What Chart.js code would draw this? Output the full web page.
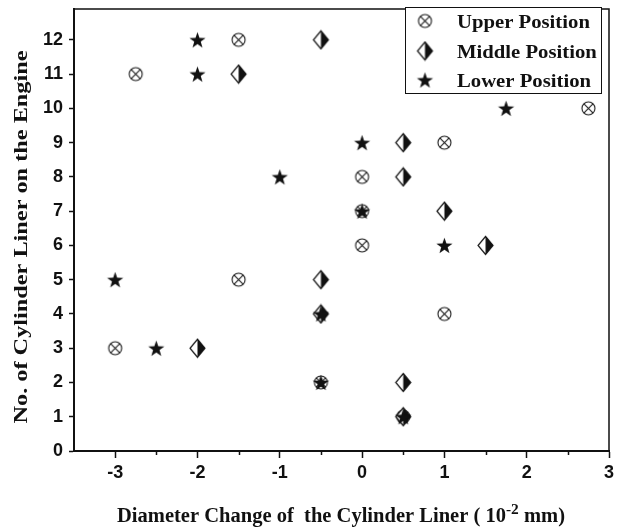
<!DOCTYPE html>
<html>
<head>
<meta charset="utf-8">
<title>Cylinder liner diameter change</title>
<script src="https://cdn.jsdelivr.net/npm/chart.js@4.4.1/dist/chart.umd.min.js"></script>
<style>
  html, body { margin: 0; padding: 0; background: #fff; }
  #wrap { width: 618px; height: 531px; }
</style>
</head>
<body>
<div id="wrap"><canvas id="liner" width="618" height="531"></canvas></div>
<script>
// cylinder number on the engine (y) and measured diameter change in 1e-2 mm (x)
const cylinders = [1, 2, 3, 4, 5, 6, 7, 8, 9, 10, 11, 12];
const upperChange  = [0.5, -0.5, -3, 1, -1.5, 0, 0, 0, 1, 2.75, -2.75, -1.5];
const middleChange = [0.5, 0.5, -2, -0.5, -0.5, 1.5, 1, 0.5, 0.5, null, -1.5, -0.5];
const lowerChange  = [0.5, -0.5, -2.5, -0.5, -3, 1, 0, -1, 0, 1.75, -2, -2];

const xTicks = [-3, -2, -1, 0, 1, 2, 3];
const xMinorTicks = [-2.5, -1.5, -0.5, 0.5, 1.5, 2.5];
const yTicks = [0, 1, 2, 3, 4, 5, 6, 7, 8, 9, 10, 11, 12];

const INK = '#111';

function toPoints(values) {
  const pts = [];
  values.forEach((v, i) => {
    if (v !== null) pts.push({ x: v, y: cylinders[i] });
  });
  return pts;
}

function makeMarker(draw) {
  const c = document.createElement('canvas');
  c.width = 21;
  c.height = 21;
  const g = c.getContext('2d');
  g.translate(10.5, 10.5);
  draw(g);
  return c;
}

// circle with a cross inside
const upperMarker = makeMarker(g => {
  g.strokeStyle = '#1a1a1a';
  g.lineWidth = 1.1;
  g.beginPath();
  g.arc(0, 0, 6.5, 0, Math.PI * 2);
  g.stroke();
  const d = 6.5 * Math.SQRT1_2;
  g.beginPath();
  g.moveTo(-d, -d); g.lineTo(d, d);
  g.moveTo(-d, d); g.lineTo(d, -d);
  g.stroke();
});

// diamond, right half filled
const middleMarker = makeMarker(g => {
  const w = 7.5, h = 9;
  g.fillStyle = '#fff';
  g.beginPath();
  g.moveTo(0, -h); g.lineTo(-w, 0); g.lineTo(0, h); g.closePath();
  g.fill();
  g.fillStyle = INK;
  g.beginPath();
  g.moveTo(0, -h); g.lineTo(w, 0); g.lineTo(0, h); g.closePath();
  g.fill();
  g.strokeStyle = INK;
  g.lineWidth = 1.2;
  g.beginPath();
  g.moveTo(0, -h); g.lineTo(w, 0); g.lineTo(0, h); g.lineTo(-w, 0); g.closePath();
  g.stroke();
});

// filled five point star
const lowerMarker = makeMarker(g => {
  const R = 8.5, r = 3.4;
  g.fillStyle = INK;
  g.beginPath();
  for (let i = 0; i < 10; i++) {
    const rad = i % 2 === 0 ? R : r;
    const a = -Math.PI / 2 + i * Math.PI / 5;
    const px = rad * Math.cos(a), py = rad * Math.sin(a) + 0.8;
    if (i === 0) g.moveTo(px, py); else g.lineTo(px, py);
  }
  g.closePath();
  g.fill();
});

// draw a run of text pieces stretched to a fixed width
function fitText(ctx, parts, cx, baseline, width) {
  let natural = 0;
  parts.forEach(p => {
    ctx.font = 'bold ' + p.size + 'px "Liberation Serif", "Times New Roman", serif';
    natural += ctx.measureText(p.text).width;
  });
  const k = width / natural;
  ctx.save();
  ctx.translate(cx - width / 2, baseline);
  ctx.scale(k, 1);
  let x = 0;
  parts.forEach(p => {
    ctx.font = 'bold ' + p.size + 'px "Liberation Serif", "Times New Roman", serif';
    ctx.fillText(p.text, x, -(p.rise || 0));
    x += ctx.measureText(p.text).width;
  });
  ctx.restore();
}

const decorations = {
  id: 'decorations',
  afterDraw(chart) {
    const ctx = chart.ctx;
    const area = chart.chartArea;
    const xs = chart.scales.x;
    ctx.save();
    ctx.strokeStyle = INK;
    ctx.fillStyle = INK;
    ctx.textBaseline = 'alphabetic';
    ctx.textAlign = 'left';

    // top and right frame
    ctx.lineWidth = 1.5;
    ctx.beginPath();
    ctx.moveTo(area.left, area.top);
    ctx.lineTo(area.right, area.top);
    ctx.lineTo(area.right, area.bottom);
    ctx.stroke();

    // minor ticks on the x axis
    ctx.lineWidth = 1.5;
    xMinorTicks.forEach(v => {
      const px = Math.round(xs.getPixelForValue(v)) + 0.5;
      ctx.beginPath();
      ctx.moveTo(px, area.bottom);
      ctx.lineTo(px, area.bottom + 4);
      ctx.stroke();
    });

    // axis titles
    fitText(ctx, [
      { text: 'Diameter Change of  the Cylinder Liner ( 10', size: 20 },
      { text: '-2', size: 15, rise: 8 },
      { text: ' mm)', size: 20 }
    ], 341, 522, 448);

    ctx.save();
    ctx.translate(27, 237);
    ctx.rotate(-Math.PI / 2);
    fitText(ctx, [{ text: 'No. of Cylinder Liner on the Engine', size: 19 }], 0, 0, 373);
    ctx.restore();

    // legend box
    const box = { left: 405, top: 7, right: 601, bottom: 93 };
    ctx.lineWidth = 1;
    ctx.fillStyle = '#fff';
    ctx.fillRect(box.left, box.top, box.right - box.left, box.bottom - box.top);
    ctx.strokeRect(box.left + 0.5, box.top + 0.5, box.right - box.left, box.bottom - box.top);
    ctx.fillStyle = INK;
    const rows = [21, 51, 80];
    chart.data.datasets.forEach((ds, i) => {
      const img = ds.pointStyle;
      ctx.drawImage(img, 425 - img.width / 2, rows[i] - img.height / 2);
      ctx.save();
      ctx.font = 'bold 19px "Liberation Serif", "Times New Roman", serif';
      ctx.translate(457, rows[i] + 7);
      ctx.scale(1.09, 1);
      ctx.fillText(ds.label, 0, 0);
      ctx.restore();
    });
    ctx.restore();
  }
};

const tickFont = { family: '"Liberation Sans", Arial, sans-serif', weight: 'bold', size: 18 };

new Chart(document.getElementById('liner'), {
  type: 'scatter',
  data: {
    datasets: [
      { label: 'Upper Position', data: toPoints(upperChange), pointStyle: upperMarker, pointRadius: 8, order: 3 },
      { label: 'Middle Position', data: toPoints(middleChange), pointStyle: middleMarker, pointRadius: 8, order: 2 },
      { label: 'Lower Position', data: toPoints(lowerChange), pointStyle: lowerMarker, pointRadius: 8, order: 1 }
    ]
  },
  options: {
    responsive: false,
    animation: false,
    layout: { padding: { top: 5, right: 8, left: 0, bottom: 0 } },
    scales: {
      x: {
        type: 'linear',
        min: -3.5,
        max: 3,
        afterBuildTicks: s => { s.ticks = xTicks.map(v => ({ value: v })); },
        afterFit: s => { s.height = 80; s.paddingLeft = 0; s.paddingRight = 0; },
        grid: { drawOnChartArea: false, drawTicks: true, tickLength: 7, tickColor: INK, tickWidth: 1.5 },
        border: { color: INK, width: 2 },
        ticks: { color: INK, font: tickFont, padding: 4, maxRotation: 0 }
      },
      y: {
        type: 'linear',
        min: 0,
        max: 12.9,
        afterBuildTicks: s => { s.ticks = yTicks.map(v => ({ value: v })); },
        afterFit: s => { s.width = 74; s.paddingTop = 0; s.paddingBottom = 0; },
        grid: { drawOnChartArea: false, drawTicks: true, tickLength: 5, tickColor: INK, tickWidth: 1.5 },
        border: { color: INK, width: 2 },
        ticks: { color: INK, font: tickFont, padding: 6 }
      }
    },
    plugins: {
      legend: { display: false },
      tooltip: { enabled: false }
    }
  },
  plugins: [decorations]
});
</script>
</body>
</html>
